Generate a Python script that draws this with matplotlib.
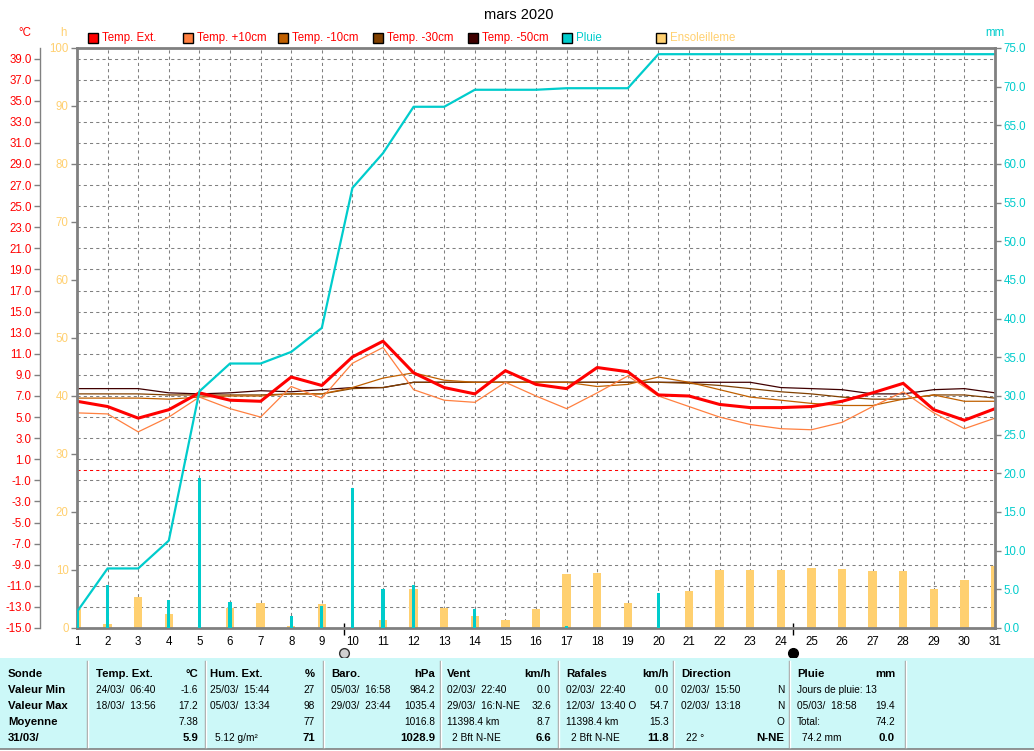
import numpy as np
import matplotlib.pyplot as plt
from matplotlib.patches import Rectangle
from matplotlib.lines import Line2D

plt.rcParams['font.family'] = ['Liberation Sans', 'DejaVu Sans']

# donnees (mars 2020)
days = np.arange(1, 32)
t_ext = [6.5, 6.0, 4.9, 5.7, 7.3, 6.6, 6.5, 8.8, 8.0, 10.7, 12.2, 9.2, 7.8, 7.2, 9.4, 8.1,
         7.7, 9.7, 9.3, 7.1, 7.0, 6.2, 5.9, 5.9, 6.0, 6.5, 7.3, 8.2, 5.7, 4.7, 5.8]
t_p10 = [5.4, 5.3, 3.6, 5.0, 6.9, 5.8, 5.0, 7.9, 6.8, 10.1, 11.6, 7.6, 6.6, 6.4, 8.3, 7.0,
         5.8, 7.3, 8.9, 7.0, 6.0, 5.0, 4.3, 3.9, 3.8, 4.5, 6.0, 7.4, 5.4, 3.9, 4.9]
t_m10 = [6.8, 6.8, 6.8, 6.7, 6.9, 7.0, 7.0, 7.2, 7.2, 7.8, 8.7, 9.2, 8.5, 8.3, 8.3, 8.3,
         8.3, 7.9, 8.1, 8.8, 8.3, 7.6, 6.9, 6.6, 6.3, 6.1, 6.1, 6.7, 7.1, 6.5, 6.5]
t_m30 = [7.2, 7.2, 7.2, 7.1, 7.1, 7.1, 7.1, 7.2, 7.2, 7.7, 7.8, 8.3, 8.3, 8.3, 8.3, 8.3,
         8.3, 8.3, 8.3, 8.3, 8.2, 8.0, 7.7, 7.4, 7.2, 6.9, 6.7, 6.7, 7.1, 7.1, 6.8]
t_m50 = [7.7, 7.7, 7.7, 7.3, 7.2, 7.3, 7.5, 7.4, 7.6, 7.8, 7.8, 8.3, 8.3, 8.3, 8.3, 8.3,
         8.3, 8.3, 8.3, 8.3, 8.3, 8.3, 8.3, 7.8, 7.7, 7.6, 7.2, 7.2, 7.6, 7.7, 7.3]
rain = [2.1, 5.6, 0, 3.6, 19.4, 3.4, 0, 1.6, 2.9, 18.1, 5.1, 5.6, 0, 2.4, 0, 0,
        0.2, 0, 0, 4.5, 0, 0, 0, 0, 0, 0, 0, 0, 0, 0, 0]
rain_cum = [2.1, 7.7, 7.7, 11.3, 30.6, 34.2, 34.2, 35.7, 38.8, 56.9, 61.4, 67.4, 67.4, 69.6,
            69.6, 69.6, 69.8, 69.8, 69.8, 74.2, 74.2, 74.2, 74.2, 74.2, 74.2, 74.2, 74.2,
            74.2, 74.2, 74.2, 74.2]
sun = [3.2, 0.7, 5.4, 2.4, 0, 3.4, 4.3, 0.3, 4.1, 0, 1.4, 6.7, 3.5, 2.1, 1.3, 3.3,
       9.3, 9.4, 4.3, 0, 6.4, 10.0, 10.0, 10.0, 10.3, 10.1, 9.8, 9.8, 6.8, 8.3, 10.7]
moon_full = 9.74
moon_new = 24.4

leg_labels = ['Temp. Ext.', 'Temp. +10cm', 'Temp. -10cm', 'Temp. -30cm', 'Temp. -50cm',
              'Pluie', 'Ensoleilleme']
leg_colors = ['#FF0000', '#FF8040', '#C06000', '#804000', '#400000', '#00CCCC', '#FFD070']
leg_text_colors = ['#FF0000'] * 5 + ['#00CCCC', '#FFD070']
leg_x = [88, 183, 278, 373, 468, 562, 656]

tbl_head = ['Sonde', 'Temp. Ext.', 'Hum. Ext.', 'Baro.', 'Vent', 'Rafales', 'Direction', 'Pluie']
tbl_unit = ['', '°C', '%', 'hPa', 'km/h', 'km/h', '', 'mm']
tbl_left = [
    ['Valeur Min', 'Valeur Max', 'Moyenne', '31/03/'],
    ['24/03/  06:40', '18/03/  13:56', '', ''],
    ['25/03/  15:44', '05/03/  13:34', '', '5.12 g/m²'],
    ['05/03/  16:58', '29/03/  23:44', '', ''],
    ['02/03/  22:40', '29/03/  16:N-NE', '11398.4 km', '2 Bft N-NE'],
    ['02/03/  22:40', '12/03/  13:40 O', '11398.4 km', '2 Bft N-NE'],
    ['02/03/  15:50', '02/03/  13:18', '', '22 °'],
    ['Jours de pluie: 13', '05/03/  18:58', 'Total:', '74.2 mm'],
]
tbl_right = [
    ['', '', '', ''],
    ['-1.6', '17.2', '7.38', '5.9'],
    ['27', '98', '77', '71'],
    ['984.2', '1035.4', '1016.8', '1028.9'],
    ['0.0', '32.6', '8.7', '6.6'],
    ['0.0', '54.7', '15.3', '11.8'],
    ['N', 'N', 'O', 'N-NE'],
    ['', '19.4', '74.2', '0.0'],
]
col_x0 = [8, 96, 210, 331, 447, 566, 681, 797]
col_x1 = [80, 198, 315, 435, 551, 669, 784, 895]
col_sep = [87, 205, 323, 440, 558, 673, 789, 905]
row_y = [674, 690, 706, 722, 738]

W, H = 1034, 751
GREY = '#808080'


def fx(x):
    return x / W


def fy(y):
    return 1 - y / H


fig = plt.figure(figsize=(W / 100, H / 100), dpi=100)
ax = fig.add_axes([fx(77), fy(628), 918 / W, 580 / H])
axh = ax.twinx()
axr = ax.twinx()

# temperatures
ax.set_xlim(1, 31)
ax.set_ylim(-15, 40)
ax.set_axisbelow(True)
ax.grid(True, color=GREY, lw=0.75, ls=(0, (3, 3)))
ax.axhline(0, color='#FF0000', lw=0.75, ls=(0, (3, 3)))
ax.plot(days, t_m50, color='#400000', lw=0.9)
ax.plot(days, t_m30, color='#804000', lw=0.9)
ax.plot(days, t_m10, color='#C06000', lw=0.9)
ax.plot(days, t_p10, color='#FF8040', lw=0.9)
ax.plot(days, t_ext, color='#FF0000', lw=2.2)

ax.set_yticks(np.arange(-15, 40, 2))
ax.set_yticklabels([f'{v:.1f}' for v in np.arange(-15, 40, 2)])
ax.tick_params(axis='y', colors=GREY, labelcolor='#FF0000', length=4, width=1, labelsize=8.3, pad=2)
ax.set_xticks(days)
ax.tick_params(axis='x', length=0, pad=6, labelsize=8.3, labelcolor='black')
for s in ['top', 'right', 'bottom']:
    ax.spines[s].set_visible(False)
ax.spines['left'].set_position(('outward', 37 * 0.72))
ax.spines['left'].set_color(GREY)
ax.spines['left'].set_linewidth(1)

# ensoleillement (h)
axh.set_ylim(0, 100)
axh.bar(days, sun, width=0.27, color='#FFD070')
axh.yaxis.tick_left()
axh.set_yticks(np.arange(0, 101, 10))
axh.tick_params(axis='y', colors=GREY, labelcolor='#FFD070', length=4, width=1, labelsize=8.3, pad=2)
for s in ['left', 'top', 'bottom']:
    axh.spines[s].set_color(GREY)
    axh.spines[s].set_linewidth(2)
axh.spines['right'].set_visible(False)

# pluie (mm)
axr.set_ylim(0, 75)
axr.bar(days, rain, width=0.11, color='#00CCCC')
axr.plot(days, rain_cum, color='#00CCCC', lw=1.6)
axr.set_yticks(np.arange(0, 76, 5))
axr.set_yticklabels([f'{v:.1f}' for v in np.arange(0, 76, 5)])
axr.tick_params(axis='y', colors=GREY, labelcolor='#00CCCC', length=4, width=1, labelsize=8.3, pad=2)
for s in ['left', 'top', 'bottom']:
    axr.spines[s].set_visible(False)
axr.spines['right'].set_color(GREY)
axr.spines['right'].set_linewidth(2)

# lune
tr = ax.get_xaxis_transform()
ax.vlines([moon_full, moon_new], -0.012, 0.009, transform=tr, color='black', lw=1, clip_on=False)
ax.plot([moon_full], [-0.043], 'o', transform=tr, ms=7, mfc='#D0D0D0', mec='#303030',
        mew=1, clip_on=False)
ax.plot([moon_new], [-0.043], 'o', transform=tr, ms=7, mfc='black', mec='black', clip_on=False)

# titre, unites, legende
fig.text(fx(519), fy(15), 'mars 2020', ha='center', va='center', fontsize=10.5)
fig.text(fx(25), fy(33), '°C', ha='center', va='center', fontsize=8.3, color='#FF0000')
fig.text(fx(63), fy(33), 'h', ha='center', va='center', fontsize=8.3, color='#FFD070')
fig.text(fx(995), fy(33), 'mm', ha='center', va='center', fontsize=8.3, color='#00CCCC')
for lab, c, tc, x in zip(leg_labels, leg_colors, leg_text_colors, leg_x):
    fig.add_artist(Rectangle((fx(x), fy(43)), 10 / W, 10 / H, transform=fig.transFigure,
                             facecolor=c, edgecolor='black', lw=1))
    fig.text(fx(x + 14), fy(38), lab, ha='left', va='center', fontsize=8.3, color=tc)

# tableau du bas
fig.add_artist(Rectangle((0, fy(749)), 1, 91 / H, transform=fig.transFigure,
                         facecolor='#CCF8F8', edgecolor='none'))
fig.add_artist(Line2D([0, 1], [fy(749), fy(749)], color=GREY, lw=1.2))
for x in col_sep:
    fig.add_artist(Line2D([fx(x), fx(x)], [fy(661), fy(747)], color='#A0A0A0', lw=1))
    fig.add_artist(Line2D([fx(x + 1.2), fx(x + 1.2)], [fy(661), fy(747)], color='white', lw=1))

for i in range(len(tbl_head)):
    fig.text(fx(col_x0[i]), fy(row_y[0]), tbl_head[i], ha='left', va='center',
             fontsize=8.2, fontweight='bold')
    if tbl_unit[i]:
        fig.text(fx(col_x1[i]), fy(row_y[0]), tbl_unit[i], ha='right', va='center',
                 fontsize=8.2, fontweight='bold')
    for r in range(4):
        last = r == 3
        txt = tbl_left[i][r]
        if txt:
            bold = i == 0
            x0 = col_x0[i] + (5 if last and i > 0 else 0)
            fig.text(fx(x0), fy(row_y[r + 1]), txt, ha='left', va='center',
                     fontsize=8.2 if bold else 7.3, fontweight='bold' if bold else 'normal')
        val = tbl_right[i][r]
        if val:
            fig.text(fx(col_x1[i]), fy(row_y[r + 1]), val, ha='right', va='center',
                     fontsize=8.2 if last else 7.3, fontweight='bold' if last else 'normal')

fig.savefig('out.png', dpi=100)
